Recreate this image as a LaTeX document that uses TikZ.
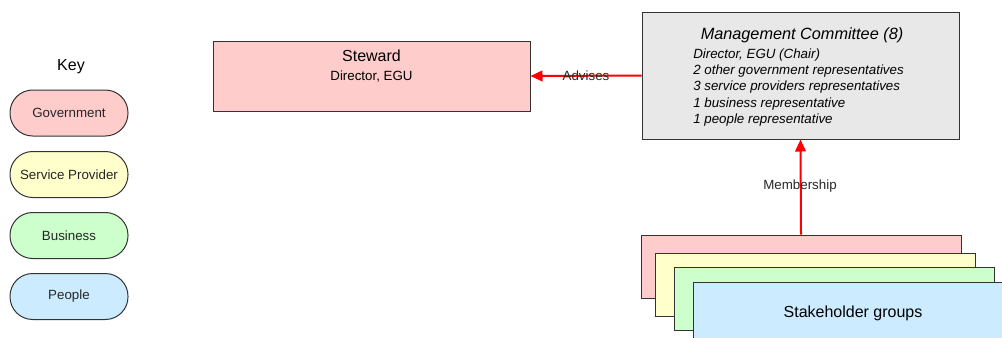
\documentclass[tikz,border=0pt]{standalone}
\usepackage{fontspec}
\setmainfont{Liberation Sans}
\usetikzlibrary{arrows.meta,positioning}
\definecolor{govpink}{HTML}{FFCCCC}
\definecolor{provyellow}{HTML}{FFFFCC}
\definecolor{busgreen}{HTML}{CCFFCC}
\definecolor{peopleblue}{HTML}{CCEBFF}
\definecolor{boxgray}{HTML}{E8E8E8}
\definecolor{edgegray}{HTML}{333333}
\begin{document}
\begin{tikzpicture}[x=0.75pt,y=0.75pt,yscale=-1,xscale=1,
    keypill/.style={draw=edgegray,line width=0.75pt,rounded corners=17pt,minimum width=88.5pt,minimum height=34.5pt,font=\fontsize{10}{12}\selectfont,text=black!85},
    groupbox/.style={draw=edgegray,line width=0.75pt,minimum width=240pt,minimum height=47.25pt},
    redlink/.style={draw=red,line width=1.5pt,-{Triangle[length=9pt,width=8pt]}},
    linklabel/.style={font=\fontsize{10}{12}\selectfont,text=black!85,inner sep=0.75pt}]
    \clip (0,0) rectangle (1002,337);
    % Key
    \draw (71,67) node [font=\fontsize{12}{14}\selectfont,inner sep=0.75pt] (keytitle) {Key};
    \draw (69,113) node [keypill,fill=govpink] (keygov) {Government};
    \draw (69,174.5) node [keypill,fill=provyellow] (keyprov) {Service Provider};
    \draw (69,235.5) node [keypill,fill=busgreen] (keybus) {Business};
    \draw (69,296.5) node [keypill,fill=peopleblue] (keypeople) {People};
    % Steward
    \draw (371.5,76) node [draw=edgegray,line width=0.75pt,fill=govpink,minimum width=237.75pt,minimum height=52.5pt] (steward) {};
    % Text Node
    \draw (371.5,56) node [font=\fontsize{12}{14}\selectfont,inner sep=0.75pt] (stewardtitle) {Steward};
    % Text Node
    \draw (371.5,77) node [font=\fontsize{10}{12}\selectfont,inner sep=0.75pt] (stewardrole) {Director, EGU};
    % Management Committee
    \draw (800.5,75.5) node [draw=edgegray,line width=0.75pt,fill=boxgray,minimum width=237.75pt,minimum height=95.25pt] (committee) {};
    % Text Node
    \draw (802,35.5) node [font=\fontsize{12.2}{14}\selectfont\itshape,inner sep=0.75pt] (committeetitle) {Management Committee (8)};
    % Text Node
    \draw (692,47.5) node [anchor=north west,align=left,font=\fontsize{10}{12.2}\selectfont\itshape,inner sep=0.75pt] (committeelist) {Director, EGU (Chair)\\2 other government representatives\\3 service providers representatives\\1 business representative\\1 people representative};
    % Stakeholder groups
    \draw (801,266.5) node [groupbox,fill=govpink] (groupgov) {};
    \draw (815.5,284.5) node [groupbox,fill=provyellow] (groupprov) {};
    \draw (834,298.5) node [groupbox,fill=busgreen] (groupbus) {};
    \draw (853,313.5) node [groupbox,fill=peopleblue,font=\fontsize{12}{14}\selectfont] (grouppeople) {Stakeholder groups};
    % Links
    \draw [redlink] (committee.west) -- (steward.east);
    \draw [redlink] (groupgov.north) -- (committee.south);
    % Text Node
    \draw (586,76) node [linklabel] (adviseslabel) {Advises};
    % Text Node
    \draw (800,186.5) node [linklabel] (memberlabel) {Membership};
\end{tikzpicture}
\end{document}
